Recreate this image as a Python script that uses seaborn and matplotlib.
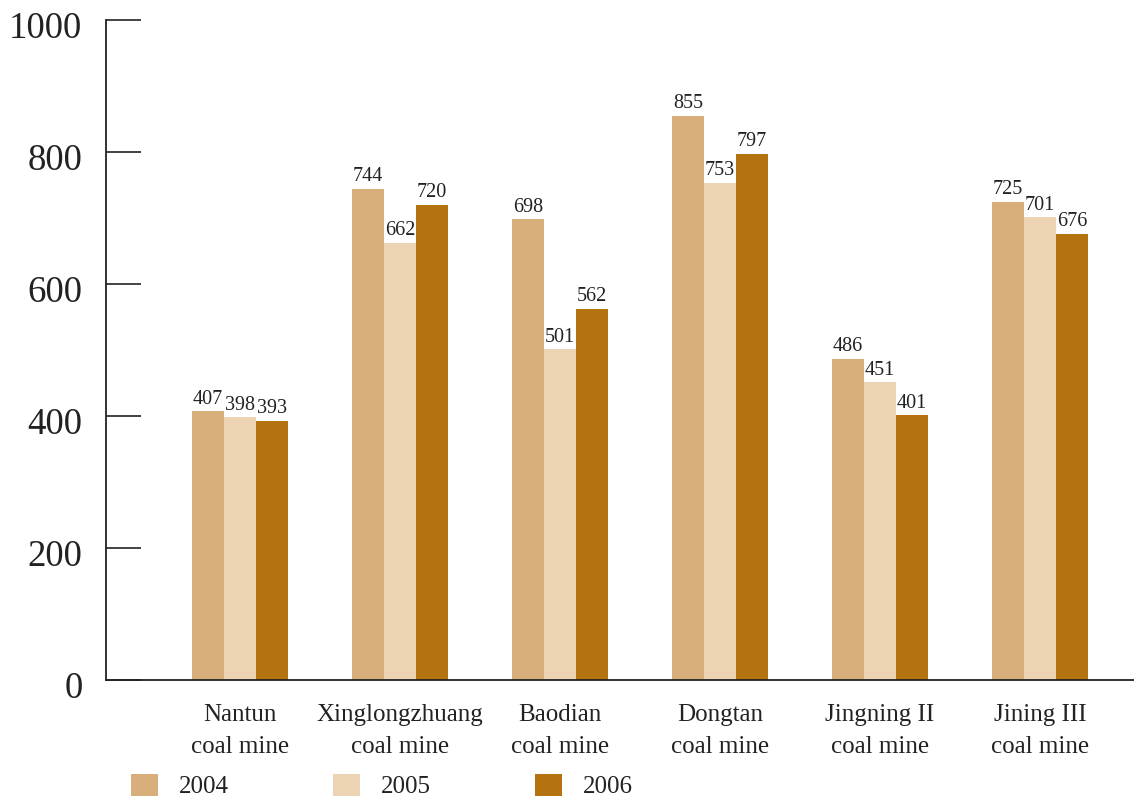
import matplotlib
matplotlib.use("Agg")
import matplotlib.pyplot as plt
import matplotlib.transforms as mtransforms
from matplotlib.patches import Patch
import seaborn as sns
import pandas as pd

mines = ["Nantun\ncoal mine", "Xinglongzhuang\ncoal mine", "Baodian\ncoal mine",
         "Dongtan\ncoal mine", "Jingning II\ncoal mine", "Jining III\ncoal mine"]
years = ["2004", "2005", "2006"]
v2004 = [407, 744, 698, 855, 486, 725]
v2005 = [398, 662, 501, 753, 451, 701]
v2006 = [393, 720, 562, 797, 401, 676]
colors = ["#D8AE7A", "#ECD3B3", "#B4730E"]
yticks = [0, 200, 400, 600, 800, 1000]

rows = []
for y, vals in zip(years, [v2004, v2005, v2006]):
    for m, v in zip(mines, vals):
        rows.append({"mine": m, "year": y, "value": v})
df = pd.DataFrame(rows)

sns.set_theme(style="white")
plt.rcParams["font.family"] = ["Liberation Serif", "DejaVu Serif"]
plt.rcParams["text.color"] = "#222222"

fig = plt.figure(figsize=(11.34, 7.98), dpi=100)
ax = fig.add_axes([106 / 1134, 118 / 798, 1 - 106 / 1134, 660 / 798])

sns.barplot(data=df, x="mine", y="value", hue="year", order=mines, hue_order=years,
            palette=colors, width=0.6, saturation=1, ax=ax, legend=False, linewidth=0)

for cont in ax.containers:
    ax.bar_label(cont, fmt="%d", padding=2, fontsize=14.5, color="#222222")

ax.set_ylim(0, 1000)
ax.set_xlim(-0.8375, 5.5875)
ax.set_yticks(yticks)
ax.set_yticklabels([str(t) for t in yticks], fontsize=26.5, color="#222222")
ax.set_xlabel("")
ax.set_ylabel("")
for lbl in ax.get_xticklabels():
    lbl.set_fontsize(18)
    lbl.set_linespacing(1.62)
    lbl.set_color("#222222")

ax.tick_params(axis="y", direction="in", length=25, width=1.2, pad=17, left=True, colors="#222222")
ax.tick_params(axis="x", length=0, pad=17)

offset = mtransforms.ScaledTranslation(0, -5 / 100, fig.dpi_scale_trans)
for lbl in ax.get_yticklabels():
    lbl.set_transform(lbl.get_transform() + offset)

for s in ["top", "right"]:
    ax.spines[s].set_visible(False)
for s in ["left", "bottom"]:
    ax.spines[s].set_color("#222222")
    ax.spines[s].set_linewidth(1.3)

handles = [Patch(facecolor=c, edgecolor="none", label=y) for c, y in zip(colors, years)]
fig.legend(handles=handles, loc="center left", bbox_to_anchor=(131 / 1134, 1 - 786 / 798),
           ncol=3, frameon=False, fontsize=18, handlelength=1.08, handleheight=1.0,
           handletextpad=0.85, columnspacing=4.15, borderpad=0, borderaxespad=0)

fig.savefig("out.png", dpi=100)
